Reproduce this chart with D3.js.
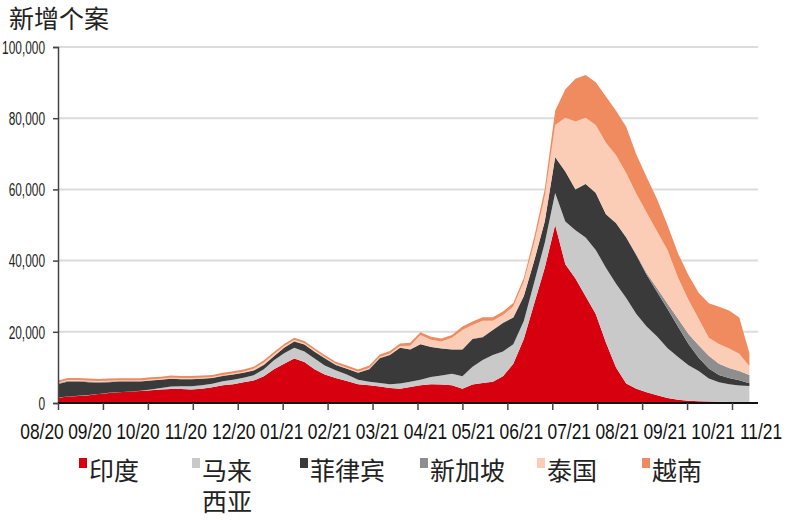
<!DOCTYPE html>
<html>
<head>
<meta charset="utf-8">
<script src="https://cdn.jsdelivr.net/npm/d3@7"></script>
<style>
  body { margin: 0; background: #fff; }
  svg { display: block; }
</style>
</head>
<body>
<svg id="chart" width="794" height="520"></svg>
<script>
// month ticks on the x axis
const monthLabels = ["08/20","09/20","10/20","11/20","12/20","01/21","02/21","03/21",
                     "04/21","05/21","06/21","07/21","08/21","09/21","10/21","11/21"];
const yTicks = [0, 20000, 40000, 60000, 80000, 100000];

const seriesNames = ["印度", "马来西亚", "菲律宾", "新加坡", "泰国", "越南"];
const seriesColors = ["#d7000f", "#c9c9c9", "#3a3a3a", "#8e8e8e", "#fbcdb7", "#f08b60"];

// weekly new cases (thousands), one value per week from 2020-08-01
const india = [1.5,1.8,2.0,2.2,2.5,2.8,3.0,3.2,3.4,3.6,3.8,3.9,3.9,3.8,4.0,4.4,5.0,5.3,5.8,6.3,
  7.5,9.5,11.0,12.5,11.5,9.5,8.0,7.0,6.2,5.3,5.0,4.6,4.2,4.0,4.5,5.0,5.3,5.2,5.0,4.0,
  5.2,5.6,6.0,7.5,11.0,18.0,28.0,38.0,50.0,39.0,35.0,30.0,25.0,17.0,10.0,5.5,4.0,3.0,2.2,1.4,
  0.9,0.6,0.5,0.4,0.35,0.3,0.3,0.25];
const malaysia = [0.05,0.05,0.05,0.05,0.05,0.05,0.05,0.05,0.05,0.2,0.4,0.7,0.8,0.9,1.0,1.0,1.1,1.2,1.3,1.5,
  2.0,2.5,3.0,3.0,3.0,3.0,2.5,2.2,1.8,1.2,1.0,1.0,1.1,1.5,1.5,1.5,2.0,2.5,3.2,3.5,
  5.0,6.5,7.5,7.0,5.5,5.0,6.0,7.0,9.0,12.0,13.5,16.5,18.0,21.0,23.5,24.0,21.0,18.5,16.5,14.0,
  12.0,10.0,8.5,6.5,5.5,5.0,4.6,4.5];
const philippines = [3.8,4.2,4.0,3.6,3.2,3.0,3.0,2.8,2.6,2.5,2.3,2.2,2.0,2.0,1.8,1.6,1.5,1.5,1.4,1.3,
  1.2,1.1,1.5,1.8,1.9,1.9,2.1,1.5,1.6,2.0,3.5,7.0,8.2,10.0,9.0,10.0,8.4,7.6,6.8,7.5,
  7.8,6.4,7.0,8.0,7.5,7.0,6.0,6.0,10.0,14.0,11.5,15.0,16.0,15.0,17.0,17.0,16.5,14.5,12.5,11.0,
  8.5,6.0,3.7,2.8,2.0,1.7,1.5,0.8];
const singapore = [0.2,0.2,0.2,0.2,0.2,0.2,0.1,0.1,0.1,0.1,0.1,0.1,0.1,0.1,0.1,0.1,0.1,0.1,0.1,0.1,
  0.1,0.1,0.1,0.1,0.1,0.1,0.1,0.1,0.1,0.1,0.1,0.1,0.1,0.1,0.1,0.1,0.1,0.1,0.1,0.1,
  0.1,0.1,0.1,0.1,0.1,0.1,0.1,0.1,0.1,0.1,0.1,0.1,0.1,0.1,0.1,0.1,0.3,0.5,1.0,1.5,
  2.3,2.8,3.5,3.6,3.2,2.8,2.6,2.3];
const thailand = [0.2,0.2,0.2,0.2,0.2,0.2,0.2,0.2,0.2,0.2,0.2,0.2,0.2,0.2,0.2,0.2,0.2,0.2,0.2,0.4,
  0.6,0.5,0.4,0.3,0.3,0.3,0.2,0.2,0.2,0.2,0.2,0.2,0.3,0.4,1.0,2.5,2.0,1.9,3.2,5.4,
  3.8,4.5,2.5,2.1,3.0,4.0,5.0,7.0,9.0,15.0,19.0,18.5,19.0,20.0,19.0,18.0,17.0,17.0,16.0,15.0,
  11.5,9.5,7.5,5.0,5.5,5.5,4.8,2.5];
const vietnam = [0.6,0.6,0.6,0.6,0.6,0.6,0.6,0.6,0.6,0.6,0.6,0.6,0.6,0.6,0.6,0.6,0.6,0.6,0.6,0.6,
  0.6,0.6,0.6,0.6,0.6,0.6,0.6,0.6,0.6,0.6,0.7,0.7,0.7,0.7,0.8,0.8,0.8,0.8,0.8,1.0,
  1.0,1.0,1.0,1.0,1.0,1.0,1.6,2.0,4.0,8.0,12.0,12.0,12.0,13.0,12.5,13.0,11.0,10.0,9.0,7.0,
  6.8,7.0,7.3,9.7,10.5,10.7,10.2,3.7];

const seriesValues = [india, malaysia, philippines, singapore, thailand, vietnam];
const firstWeek = new Date(2020, 7, 1);
const weeks = india.map((_, i) => d3.timeDay.offset(firstWeek, 7 * i));

const svg = d3.select("#chart");
const numFont = "'Liberation Sans', Arial, sans-serif";
const cjkFont = "'Noto Sans CJK SC', 'Noto Sans', sans-serif";

const plotLeft = 58, plotRight = 758, plotTop = 47, plotBottom = 403;

// month ticks are evenly spaced, so map each month start to its own slot
const monthStarts = monthLabels.map(s => new Date(2000 + +s.slice(3), +s.slice(0, 2) - 1, 1));
const tickPos = d3.scalePoint().domain(monthLabels).range([plotLeft, 732]);
const x = d3.scaleTime().domain(monthStarts).range(monthLabels.map(tickPos));
const labelPos = d3.scalePoint().domain(monthLabels).range([42, 761]);
const y = d3.scaleLinear().domain([0, 100000]).range([plotBottom, plotTop]);

// grid
svg.append("g").selectAll("line")
  .data(yTicks.filter(d => d > 0))
  .join("line")
  .attr("x1", plotLeft).attr("x2", plotRight)
  .attr("y1", d => y(d)).attr("y2", d => y(d))
  .attr("stroke", "#dcdcdc").attr("stroke-width", 2);

// stacked areas
const table = weeks.map((d, i) => {
  const row = { date: d };
  seriesNames.forEach((k, j) => row[k] = seriesValues[j][i] * 1000);
  return row;
});
const stacked = d3.stack().keys(seriesNames)(table);
const area = d3.area()
  .x(d => x(d.data.date))
  .y0(d => y(d[0]))
  .y1(d => y(d[1]));

svg.append("g").selectAll("path")
  .data(stacked)
  .join("path")
  .attr("d", area)
  .attr("fill", (d, i) => seriesColors[i]);

// y axis (labels squeezed horizontally, like the narrow font of the original)
const yAxis = svg.append("g").attr("transform", `translate(${plotLeft},0)`)
  .call(d3.axisLeft(y).tickValues(yTicks).tickSize(5).tickFormat(d3.format(",")));
yAxis.select(".domain").attr("stroke", "#444").attr("stroke-width", 1.5);
yAxis.selectAll(".tick line").attr("stroke", "#444").attr("stroke-width", 1.5);
yAxis.selectAll(".tick text")
  .attr("x", 0).attr("dy", "0.35em")
  .attr("transform", "translate(-13,0) scale(0.66,1)")
  .attr("font-family", numFont).attr("font-size", 18).attr("fill", "#222");

// x axis
const xAxis = svg.append("g").attr("transform", `translate(0,${plotBottom})`)
  .call(d3.axisBottom(x).tickValues(monthStarts).tickSize(7).tickFormat(""));
xAxis.select(".domain").attr("stroke", "#111").attr("stroke-width", 2)
  .attr("d", `M${plotLeft},0H${plotRight}`);
xAxis.selectAll(".tick line").attr("stroke", "#444").attr("stroke-width", 1.5);

svg.append("g").selectAll("text")
  .data(monthLabels)
  .join("text")
  .attr("transform", d => `translate(${labelPos(d)},439) scale(0.79,1)`)
  .attr("text-anchor", "middle")
  .attr("font-family", numFont).attr("font-size", 22)
  .attr("fill", "#111")
  .text(d => d);

// title
svg.append("text")
  .attr("x", 9).attr("y", 28)
  .attr("font-family", cjkFont).attr("font-size", 25)
  .attr("fill", "#222")
  .text("新增个案");

// legend (long names wrap onto a second line)
const legendX = [79, 192, 300, 420, 537, 642];
const legend = svg.append("g").selectAll("g")
  .data(seriesNames)
  .join("g")
  .attr("transform", (d, i) => `translate(${legendX[i]},0)`);
legend.append("rect")
  .attr("x", 0).attr("y", 458).attr("width", 8).attr("height", 10)
  .attr("fill", (d, i) => seriesColors[i]);
legend.selectAll("text")
  .data(d => d.length > 3 ? [d.slice(0, 2), d.slice(2)] : [d])
  .join("text")
  .attr("x", 10).attr("y", (d, i) => 480 + i * 31)
  .attr("font-family", cjkFont).attr("font-size", 25)
  .attr("fill", "#222")
  .text(d => d);
</script>
</body>
</html>
